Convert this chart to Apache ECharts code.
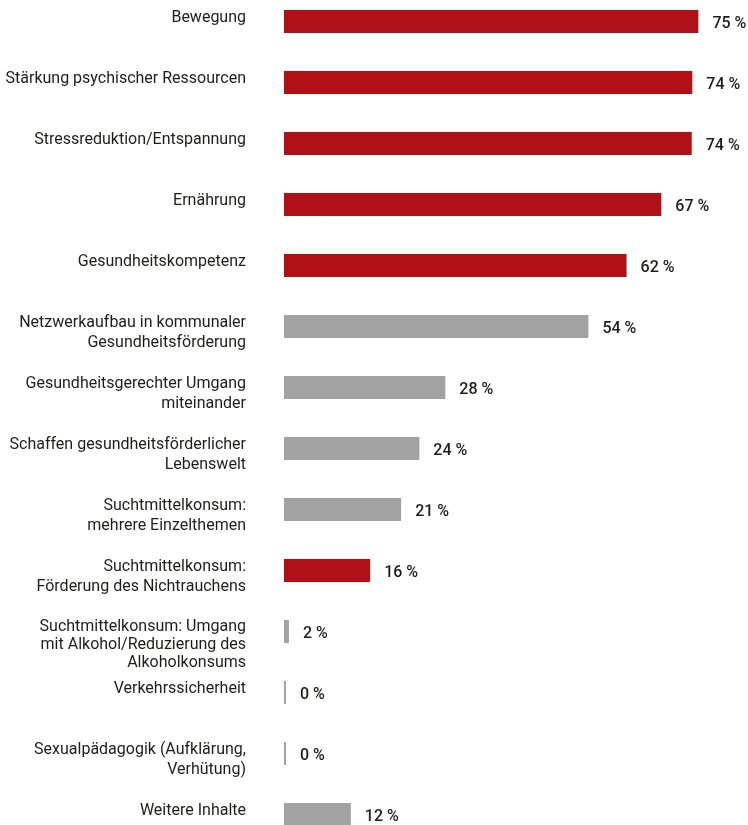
<!DOCTYPE html>
<html>
<head>
<meta charset="utf-8">
<script src="https://cdn.jsdelivr.net/npm/echarts@6/dist/echarts.min.js"></script>
<style>
html,body{margin:0;padding:0;background:#fff;}
#c{width:748px;height:825px;}
</style>
</head>
<body>
<div id="c"></div>
<script>
const categories = [
  'Bewegung',
  'Stärkung psychischer Ressourcen',
  'Stressreduktion/Entspannung',
  'Ernährung',
  'Gesundheitskompetenz',
  'Netzwerkaufbau in kommunaler\nGesundheitsförderung',
  'Gesundheitsgerechter Umgang\nmiteinander',
  'Schaffen gesundheitsförderlicher\nLebenswelt',
  'Suchtmittelkonsum:\nmehrere Einzelthemen',
  'Suchtmittelkonsum:\nFörderung des Nichtrauchens',
  'Suchtmittelkonsum: Umgang\nmit Alkohol/Reduzierung des\nAlkoholkonsums',
  'Verkehrssicherheit',
  'Sexualpädagogik (Aufklärung,\nVerhütung)',
  'Weitere Inhalte'
];
// printed percentages (labels)
const percentLabels = [75, 74, 74, 67, 62, 54, 28, 24, 21, 16, 2, 0, 0, 12];
// bar lengths as drawn in the picture (estimated, in %)
const barValues = [75, 73.9, 73.8, 68.3, 62, 55.1, 29.2, 24.5, 21.2, 15.6, 0.9, 0, 0, 12.1];
const highlighted = [true, true, true, true, true, false, false, false, false, true, false, false, false, false];

const RED = '#b11016';
const GREY = '#a2a2a2';
const TEXT = '#1d1d1b';
const FONT = 'Roboto';

const chart = echarts.init(document.getElementById('c'), null, {renderer: 'canvas'});
chart.setOption({
  animation: false,
  backgroundColor: '#ffffff',
  grid: {left: 284, top: 21.5, width: 442, height: 793, outerBoundsMode: 'none'},
  xAxis: {type: 'value', min: 0, max: 80, show: false},
  yAxis: {
    type: 'category', data: categories, inverse: true, boundaryGap: false,
    axisLine: {show: false}, axisTick: {show: false}, axisLabel: {show: false}, splitLine: {show: false}
  },
  series: [
    {
      type: 'bar',
      barWidth: 23,
      barMinHeight: 2,
      data: barValues.map((v, i) => ({value: v, itemStyle: {color: highlighted[i] ? RED : GREY}})),
      label: {
        show: true, position: 'right', distance: 14,
        formatter: p => percentLabels[p.dataIndex] + ' %',
        color: TEXT, fontFamily: FONT, fontSize: 16, fontWeight: 500,
        offset: [0, 2]
      }
    },
    {
      type: 'bar',
      barWidth: 23,
      barGap: '-100%',
      data: barValues,
      itemStyle: {color: 'rgba(0,0,0,0)'},
      silent: true,
      label: {
        show: true, position: [-38, -2], align: 'right', verticalAlign: 'top',
        formatter: p => {
          const n = p.name.split('\n').length;
          return p.name.split('\n').map(l => (n > 2 ? '{c|' : '{b|') + l + '}').join('\n');
        },
        rich: {
          b: {color: TEXT, fontFamily: FONT, fontSize: 16, lineHeight: 20, align: 'right'},
          c: {color: TEXT, fontFamily: FONT, fontSize: 16, lineHeight: 18, align: 'right'}
        }
      }
    }
  ]
});
</script>
</body>
</html>
